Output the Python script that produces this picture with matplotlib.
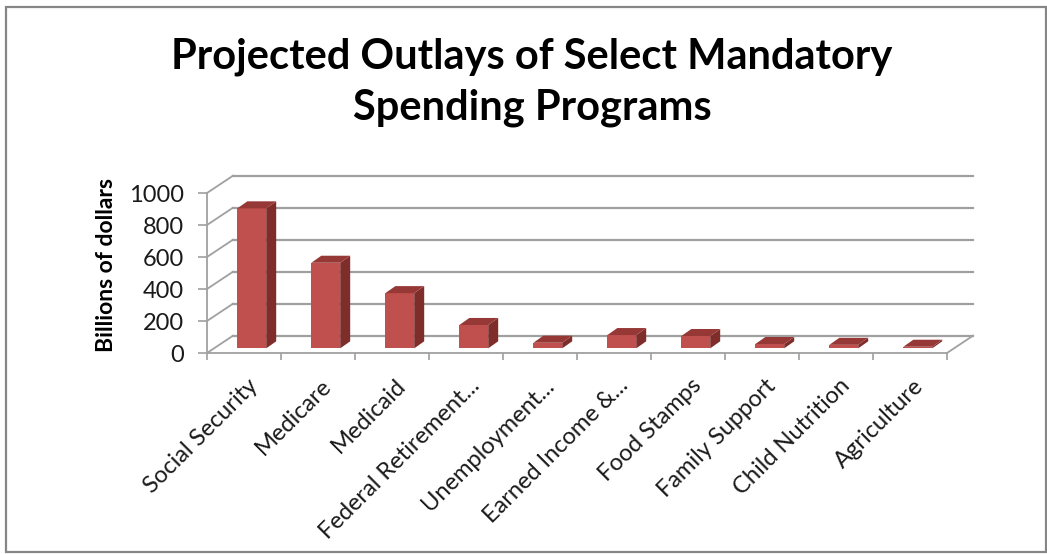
import matplotlib
matplotlib.use("Agg")
import matplotlib.pyplot as plt
from matplotlib.patches import Rectangle
from matplotlib.transforms import ScaledTranslation

plt.rcParams['font.family'] = ['Lato', 'DejaVu Sans']

# data (billions of dollars)
programs = ['Social Security', 'Medicare', 'Medicaid', 'Federal Retirement...',
            'Unemployment...', 'Earned Income &...', 'Food Stamps',
            'Family Support', 'Child Nutrition', 'Agriculture']
outlays = [875, 535, 345, 146, 35, 83, 77, 27, 22, 10]
y_ticks = [0, 200, 400, 600, 800, 1000]

# 3D look settings (in data units of the front plane)
DX, DY = 0.351, 108      # depth of the box (back wall offset)
BSHIFT, BBASE = 0.105, 29  # where the bars stand inside the box
BDX, BDY = 0.135, 44     # bar depth
BW = 0.39                # bar width

FRONT = '#c0504d'
SIDE = '#7f2d2b'
TOP = '#963836'
GRID = '#a0a0a0'

fig = plt.figure(figsize=(10.47, 5.54), dpi=100)
W, H = 1047, 554
ax = fig.add_axes([207 / W, (H - 353) / H, 740 / W, 160 / H])
ax.set_xlim(0, 10)
ax.set_ylim(0, 1000)
for s in ax.spines.values():
    s.set_visible(False)

# back wall gridlines + left wall diagonals
for v in y_ticks:
    ax.plot([DX, 10 + DX], [v + DY, v + DY], color=GRID, lw=1.6, clip_on=False, zorder=1)
    ax.plot([0, DX], [v, v + DY], color=GRID, lw=1.3, clip_on=False, zorder=1)
# front axis and floor edges
ax.plot([0, 0], [0, 1000], color=GRID, lw=1.3, clip_on=False, zorder=1)
ax.plot([0, 10], [0, 0], color=GRID, lw=1.3, clip_on=False, zorder=1)
ax.plot([10, 10 + DX], [0, DY], color=GRID, lw=1.3, clip_on=False, zorder=1)

# bars
xs = [i + 0.5 + BSHIFT for i in range(len(outlays))]
ax.bar(xs, outlays, width=BW, bottom=BBASE, color=FRONT, zorder=3, clip_on=False)
for x, v in zip(xs, outlays):
    x0, x1 = x - BW / 2, x + BW / 2
    top = BBASE + v
    ax.fill([x1, x1 + BDX, x1 + BDX, x1], [BBASE, BBASE + BDY, top + BDY, top],
            color=SIDE, zorder=3, clip_on=False, lw=0)
    ax.fill([x0, x1, x1 + BDX, x0 + BDX], [top, top, top + BDY, top + BDY],
            color=TOP, zorder=3, clip_on=False, lw=0)

# ticks
ax.set_yticks(y_ticks)
ax.tick_params(axis='y', length=6.5, width=1.2, color=GRID, pad=10, labelsize=17,
               labelcolor='#1a1a1a')
ax.set_xticks(range(11))
ax.set_xticklabels([])
ax.tick_params(axis='x', length=5, width=1.2, color=GRID, direction='out')

lab_tr = ax.transData + ScaledTranslation(3 / 100, -22 / 100, fig.dpi_scale_trans)
for i, name in enumerate(programs):
    ax.text(i + 0.5, 0, name, transform=lab_tr, rotation=45, rotation_mode='anchor',
            ha='right', va='top', fontsize=17, color='#1a1a1a')

ax.set_ylabel('Billions of dollars', fontsize=16.5, fontweight='bold')
ax.yaxis.set_label_coords(-0.122, 0.547)

fig.text(532 / W, 1 - 37 / H, 'Projected Outlays of Select Mandatory\nSpending Programs',
         ha='center', va='top', fontsize=30, fontweight='bold', linespacing=1.42)

# chart border
fig.patches.append(Rectangle((6 / W, 2 / H), 1040 / W, 545 / H, transform=fig.transFigure,
                             fill=False, edgecolor='#868686', lw=1.6))

fig.savefig('out.png', dpi=100)
